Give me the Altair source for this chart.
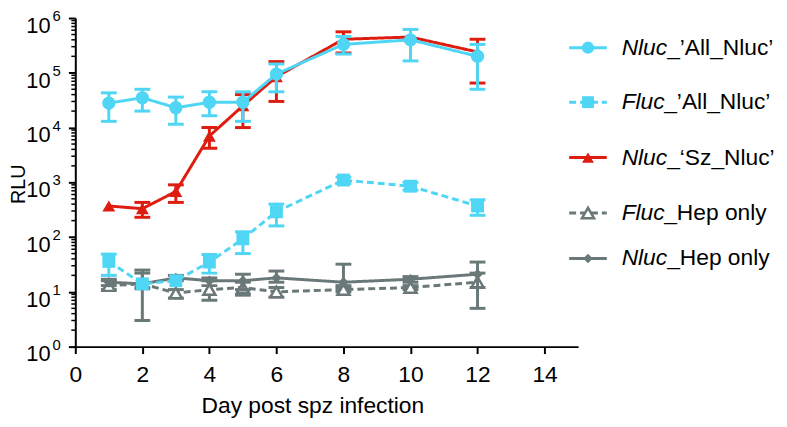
import altair as alt
import pandas as pd

# ---------------- data ----------------
days = [1, 2, 3, 4, 5, 6, 8, 10, 12]

series_keys = ["Fluc_Hep", "Nluc_Hep", "Nluc_Sz", "Fluc_All", "Nluc_All"]

nluc_all_mean = [28000, 35000, 23000, 29000, 29000, 95000, 330000, 400000, 200000]
nluc_all_low = [13000, 20000, 11500, 16500, 13000, 45000, 220000, 165000, 50000]
nluc_all_high = [43000, 50000, 36000, 45000, 45000, 145000, 460000, 620000, 330000]

fluc_all_mean = [36, 14, 16, 35, 93, 290, 1100, 850, 370]
fluc_all_low = [20, None, None, 22, 50, 160, 950, 720, 250]
fluc_all_high = [49, None, None, 48, 125, 400, 1250, 1000, 480]

nluc_sz_mean = [370, 330, 680, 7000, 25000, 85000, 410000, 450000, 240000]
nluc_sz_low = [None, 230, 430, 4200, 10000, 30000, 230000, None, 65000]
nluc_sz_high = [None, 430, 900, 10000, 40000, 160000, 560000, None, 410000]

fluc_hep_mean = [13, 14, 9.5, 11, 12, 10, 11, 12, 15]
fluc_hep_low = [11, 12, 7.7, 7, 8.7, 8, 10, 11, 5]
fluc_hep_high = [16, 22, 11, 16, 15, 12, 12, 13, 22]

nluc_hep_mean = [15, 14, 18, 16, 16, 18, 15, 17, 21]
nluc_hep_low = [13, 3, 16, 13, 11, 15, 13, 15, 12]
nluc_hep_high = [17, 25, 20, 18, 21, 24, 32, 19, 35]

legend_italic = ["Nluc", "Fluc", "Nluc", "Fluc", "Nluc"]
legend_rest = ["_\u2019All_Nluc\u2019", "_\u2019All_Nluc\u2019", "_\u2018Sz_Nluc\u2019", "_Hep only", "_Hep only"]
legend_keys = ["Nluc_All", "Fluc_All", "Nluc_Sz", "Fluc_Hep", "Nluc_Hep"]

y_exponents = [0, 1, 2, 3, 4, 5, 6]
x_ticks = [0, 2, 4, 6, 8, 10, 12, 14]
minor_mult = [2, 3, 4, 5, 6, 7, 8, 9]

# ---------------- table ----------------
series_data = {
    "Nluc_All": (nluc_all_mean, nluc_all_low, nluc_all_high),
    "Fluc_All": (fluc_all_mean, fluc_all_low, fluc_all_high),
    "Nluc_Sz": (nluc_sz_mean, nluc_sz_low, nluc_sz_high),
    "Fluc_Hep": (fluc_hep_mean, fluc_hep_low, fluc_hep_high),
    "Nluc_Hep": (nluc_hep_mean, nluc_hep_low, nluc_hep_high),
}
rows = []
for key, (m, lo, hi) in series_data.items():
    for d, mv, lv, hv in zip(days, m, lo, hi):
        rows.append({"series": key, "day": d, "mean": mv, "low": lv, "high": hv})
df = pd.DataFrame(rows)

# ---------------- styles ----------------
CYAN = "#4fd6f5"
RED = "#dd1d10"
GRAY = "#6b7879"
style = {
    "Nluc_All": dict(color=CYAN, dash=[1, 0], shape="circle", size=180, open=False),
    "Fluc_All": dict(color=CYAN, dash=[7, 4], shape="square", size=170, open=False),
    "Nluc_Sz": dict(color=RED, dash=[1, 0], shape="triangle-up", size=170, open=False),
    "Fluc_Hep": dict(color=GRAY, dash=[7, 4], shape="triangle-up", size=150, open=True),
    "Nluc_Hep": dict(color=GRAY, dash=[1, 0], shape="diamond", size=110, open=False),
}

FONT = "Liberation Sans"
PAD_L = 68
W, H = 508, 332

xscale = alt.Scale(domain=[0, 15], nice=False, zero=False)
yscale = alt.Scale(type="log", domain=[1, 1e6], nice=False)
xaxis = alt.Axis(values=x_ticks, title=None, grid=False, labelFontSize=23, labelFont=FONT,
                 labelColor="black", tickSize=7, tickWidth=2, tickColor="black",
                 domainWidth=2, domainColor="black", labelPadding=10, labelFlush=False)
yaxis = alt.Axis(values=[10 ** e for e in y_exponents], title=None, grid=False, labels=False,
                 tickSize=7, tickWidth=2, tickColor="black", domainWidth=2, domainColor="black")


def X(field):
    return alt.X(field, type="quantitative", scale=xscale, axis=xaxis)


def Y(field):
    return alt.Y(field, type="quantitative", scale=yscale, axis=yaxis)


layers = []

# minor ticks on the log axis
minor_df = pd.DataFrame({"v": [m * 10 ** e for e in y_exponents[:-1] for m in minor_mult]})
layers.append(
    alt.Chart(minor_df).mark_rule(color="black", strokeWidth=1.5).encode(
        y=Y("v"), x=alt.value(-4), x2=alt.value(0)
    )
)

# y tick labels 10^n
lab_df = pd.DataFrame({"v": [10 ** e for e in y_exponents], "e": [str(e) for e in y_exponents]})
layers.append(
    alt.Chart(lab_df).mark_text(align="right", baseline="alphabetic", dy=15, fontSize=22,
                                font=FONT, color="black").encode(
        y=Y("v"), x=alt.value(-25), text=alt.value("10")
    )
)
layers.append(
    alt.Chart(lab_df).mark_text(align="left", baseline="alphabetic", dy=3, fontSize=15,
                                font=FONT, color="black").encode(
        y=Y("v"), x=alt.value(-23), text="e:N"
    )
)

for key in series_keys:
    st = style[key]
    base = alt.Chart(df).transform_filter(alt.datum.series == key)
    layers.append(
        base.mark_line(color=st["color"], strokeWidth=3, strokeDash=st["dash"]).encode(
            x=X("day"), y=Y("mean")
        )
    )
    eb = base.transform_filter("isValid(datum.low) && isValid(datum.high)")
    layers.append(
        eb.mark_rule(color=st["color"], strokeWidth=3).encode(
            x=X("day"), y=Y("low"), y2="high"
        )
    )
    for f in ["low", "high"]:
        layers.append(
            eb.mark_tick(color=st["color"], orient="horizontal", size=16, thickness=3,
                         opacity=1).encode(x=X("day"), y=Y(f))
        )
    if st["open"]:
        pt = base.mark_point(shape=st["shape"], size=st["size"], filled=True, fill="white",
                             stroke=st["color"], strokeWidth=2.5, opacity=1)
    else:
        pt = base.mark_point(shape=st["shape"], size=st["size"], filled=True,
                             color=st["color"], opacity=1)
    layers.append(pt.encode(x=X("day"), y=Y("mean")))

# axis titles
layers.append(
    alt.Chart(pd.DataFrame({"t": ["RLU"]})).mark_text(
        angle=270, align="center", baseline="alphabetic", fontSize=20, font=FONT, color="black"
    ).encode(text="t:N", x=alt.value(-51), y=alt.value(168))
)
layers.append(
    alt.Chart(pd.DataFrame({"t": ["Day post spz infection"]})).mark_text(
        align="center", baseline="alphabetic", fontSize=23, font=FONT, color="black"
    ).encode(text="t:N", x=alt.value(240), y=alt.value(399))
)

# custom legend
leg_y = [30, 85, 141, 197, 243]
LX0, LX1, LXM, LXT = 499, 537, 518, 552
italic_w = {"Nluc": 46, "Fluc": 43}
for i, key in enumerate(legend_keys):
    st = style[key]
    one = alt.Chart(pd.DataFrame({"it": [legend_italic[i]], "rest": [legend_rest[i]]}))
    layers.append(
        one.mark_rule(color=st["color"], strokeWidth=3, strokeDash=st["dash"]).encode(
            x=alt.value(LX0), x2=alt.value(LX1), y=alt.value(leg_y[i])
        )
    )
    if st["open"]:
        lp = one.mark_point(shape=st["shape"], size=st["size"], filled=True, fill="white",
                            stroke=st["color"], strokeWidth=2.5, opacity=1)
    else:
        lp = one.mark_point(shape=st["shape"], size=st["size"] * 0.85, filled=True,
                            color=st["color"], opacity=1)
    layers.append(lp.encode(x=alt.value(LXM), y=alt.value(leg_y[i])))
    layers.append(
        one.mark_text(align="left", baseline="middle", fontSize=23, font=FONT,
                      fontStyle="italic", color="black").encode(
            text="it:N", x=alt.value(LXT), y=alt.value(leg_y[i])
        )
    )
    layers.append(
        one.mark_text(align="left", baseline="middle", fontSize=23, font=FONT,
                      color="black").encode(
            text="rest:N", x=alt.value(LXT + italic_w[legend_italic[i]]), y=alt.value(leg_y[i])
        )
    )

chart = (
    alt.layer(*layers)
    .properties(
        width=W,
        height=H,
        padding={"left": PAD_L, "top": 8, "right": 779 - PAD_L - W, "bottom": 73},
        autosize=alt.AutoSizeParams(type="none"),
        background="white",
    )
    .configure_view(stroke=None)
)

chart.save("out.html", embed_options={"renderer": "svg", "actions": False})
